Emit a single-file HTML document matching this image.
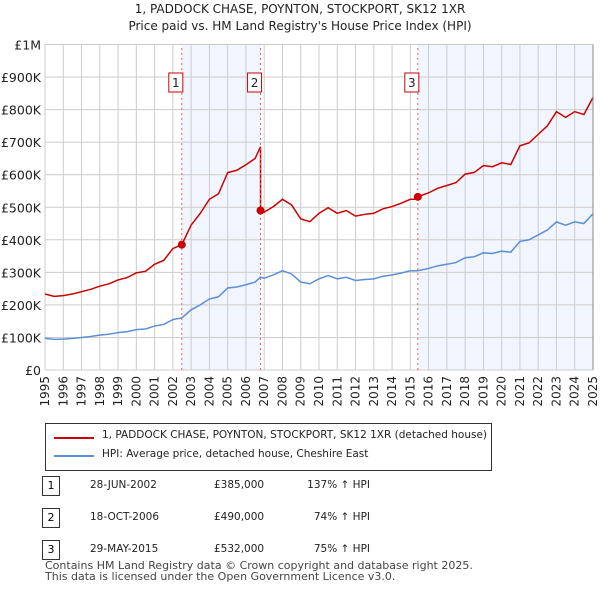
<!DOCTYPE html>
<html><head><meta charset="utf-8"><style>
body{margin:0;background:#fff;font-family:"DejaVu Sans","Liberation Sans",sans-serif;}
#w{position:relative;width:600px;height:590px;overflow:hidden}
.t{position:absolute;font-size:12px;color:#222;white-space:nowrap}
svg text{font-family:"DejaVu Sans","Liberation Sans",sans-serif}
</style></head><body><div id="w">
<div class="t" style="left:0;width:600px;text-align:center;top:2px;font-size:12px">1, PADDOCK CHASE, POYNTON, STOCKPORT, SK12 1XR</div>
<div class="t" style="left:0;width:600px;text-align:center;top:19px;font-size:12px">Price paid vs. HM Land Registry's House Price Index (HPI)</div>
<svg id="c" width="600" height="420" style="position:absolute;left:0;top:0"></svg>
<div style="position:absolute;left:45px;top:423px;width:447px;height:48px;border:1px solid #333;box-sizing:border-box">
<div style="position:absolute;left:8px;top:13px;width:40px;border-top:2px solid #cc0000"></div>
<div class="t" style="left:56px;top:5px;font-size:10.5px">1, PADDOCK CHASE, POYNTON, STOCKPORT, SK12 1XR (detached house)</div>
<div style="position:absolute;left:8px;top:31px;width:40px;border-top:2px solid #5b8fd6"></div>
<div class="t" style="left:56px;top:24px;font-size:10.5px">HPI: Average price, detached house, Cheshire East</div>
</div>
<div id="tbl"></div>
<div class="t" style="left:45px;top:560px;font-size:11px;color:#444;line-height:11px">Contains HM Land Registry data © Crown copyright and database right 2025.<br>This data is licensed under the Open Government Licence v3.0.</div>
</div>
<script>
const hpiYears=[1995,1995.5,1996,1996.5,1997,1997.5,1998,1998.5,1999,1999.5,2000,2000.5,2001,2001.5,2002,2002.49,2003,2003.5,2004,2004.5,2005,2005.5,2006,2006.5,2006.8,2007,2007.5,2008,2008.5,2009,2009.5,2010,2010.5,2011,2011.5,2012,2012.5,2013,2013.5,2014,2014.5,2015,2015.41,2016,2016.5,2017,2017.5,2018,2018.5,2019,2019.5,2020,2020.5,2021,2021.5,2022,2022.5,2023,2023.5,2024,2024.5,2025];
const hpiValues=[97,94,95,97,100,103,107,110,115,118,124,126,135,140,155,160,185,200,218,225,252,255,262,270,285,282,292,305,295,270,265,280,290,280,285,275,278,280,288,292,298,305,305,312,320,325,330,345,348,360,358,365,362,395,400,415,430,455,445,455,450,480];
const saleYears=[2002.49,2006.8,2015.41];
const salePrices=[385000,490000,532000];
const saleLabels=["1","2","3"];
const saleDates=["28-JUN-2002","18-OCT-2006","29-MAY-2015"];
const saleText=["£385,000","£490,000","£532,000"];
const saleHpi=["137% ↑ HPI","74% ↑ HPI","75% ↑ HPI"];
const yTicks=[0,100000,200000,300000,400000,500000,600000,700000,800000,900000,1000000];
const yTickLabels=["£0","£100K","£200K","£300K","£400K","£500K","£600K","£700K","£800K","£900K","£1M"];
const xTicks=[];for(let y=1995;y<=2025;y++)xTicks.push(y);

const X=v=>45+(v-1995)*(548/30), Y=v=>370-v*(325.5/1000000);
const s=document.getElementById('c'),NS='http://www.w3.org/2000/svg';
function mk(t,a,p){const e=document.createElementNS(NS,t);for(const k in a)e.setAttribute(k,a[k]);(p||s).appendChild(e);return e;}
function hpiAt(t){for(let i=1;i<hpiYears.length;i++)if(t<=hpiYears[i]){const f=(t-hpiYears[i-1])/(hpiYears[i]-hpiYears[i-1]);return hpiValues[i-1]+f*(hpiValues[i]-hpiValues[i-1]);}return hpiValues[hpiValues.length-1];}
for(let i=0;i<saleYears.length;i+=2){const x1=X(saleYears[i]),x2=i+1<saleYears.length?X(saleYears[i+1]):X(2025);
const r=mk('rect',{x:x1,y:Y(1000000),width:x2-x1,height:Y(0)-Y(1000000),fill:'#eef3fc',opacity:0.8});
}
xTicks.forEach(t=>{const l=mk('line',{x1:X(t),x2:X(t),y1:Y(0),y2:Y(1000000),stroke:'#cccccc'});

const tx=mk('text',{x:0,y:0,transform:`translate(${X(t)+4},${Y(0)+6}) rotate(-90)`,'text-anchor':'end','font-size':12,fill:'#222'});tx.textContent=t;
});
yTicks.forEach((v,i)=>{const l=mk('line',{x1:X(1995),x2:X(2025),y1:Y(v),y2:Y(v),stroke:'#cccccc'});

const tx=mk('text',{x:41,y:Y(v)+5,'text-anchor':'end','font-size':12.5,fill:'#222'});tx.textContent=yTickLabels[i];
});
const hp=mk('polyline',{points:hpiYears.map((t,i)=>X(t)+','+Y(hpiValues[i]*1000)).join(' '),fill:'none',stroke:'#5b8fd6','stroke-width':1.5});

const pts=[];hpiYears.forEach((t,i)=>{let k=0;for(let j=0;j<saleYears.length;j++)if(t>=saleYears[j]-0.001)k=j;
pts.push(X(t)+','+Y(salePrices[k]*hpiValues[i]/hpiAt(saleYears[k])));
});
const pp=[];hpiYears.forEach((t,i)=>{for(let j=1;j<saleYears.length;j++){if(hpiYears[i]===saleYears[j]){pp.push(X(t)+','+Y(salePrices[j-1]*hpiValues[i]/hpiAt(saleYears[j-1])));}}pp.push(pts[i]);});
const pl=mk('polyline',{points:pp.join(' '),fill:'none',stroke:'#cc0000','stroke-width':1.5});

saleYears.forEach((t,i)=>{const l=mk('line',{x1:X(t),x2:X(t),y1:Y(0),y2:Y(1000000),stroke:'#e06060','stroke-dasharray':'2,3'});

const c=mk('circle',{cx:X(t),cy:Y(salePrices[i]),r:4,fill:'#cc0000'});

const r=mk('rect',{x:X(t)-13,y:73,width:14,height:19,fill:'#fff',stroke:'#cc0000'});

const tx=mk('text',{x:X(t)-6,y:87,'text-anchor':'middle','font-size':12,fill:'#222'});tx.textContent=saleLabels[i];
});
const ax=mk('line',{x1:X(2025),x2:X(2025),y1:Y(0),y2:Y(1000000),stroke:'#888'});

const tb=document.getElementById('tbl');
saleYears.forEach((t,i)=>{const top=473+i*32;
const row=document.createElement('div');
row.innerHTML=`<div style="position:absolute;left:42px;top:${top+3}px;width:18px;height:20px;border:1px solid #333;box-sizing:border-box;font-size:11px;text-align:center;line-height:18px">${saleLabels[i]}</div><div class="t" style="left:90px;top:${top+6}px;font-size:10.5px">${saleDates[i]}</div><div class="t" style="left:214px;top:${top+6}px;font-size:10.5px">${saleText[i]}</div><div class="t" style="left:290px;width:80px;text-align:right;top:${top+6}px;font-size:10.5px">${saleHpi[i]}</div>`;
tb.appendChild(row);});
</script></body></html>
